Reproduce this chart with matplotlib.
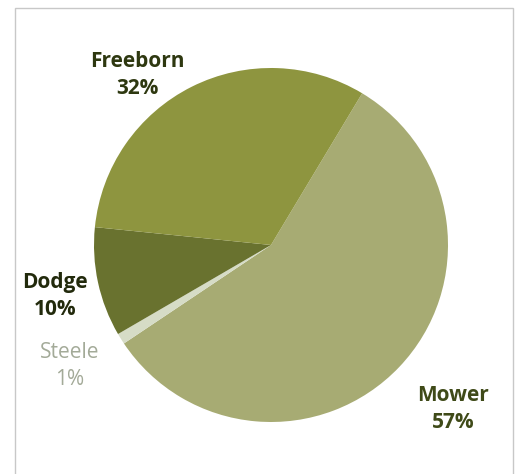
import matplotlib.pyplot as plt
from matplotlib.patches import Rectangle

# --- data --- #
counties = ["Mower", "Steele", "Dodge", "Freeborn"]
shares = [57, 1, 10, 32]
slice_colors = ["#a7ab73", "#d6dcc6", "#69722f", "#8e953f"]
label_colors = ["#3f4a18", "#a3aa98", "#222a0c", "#2e3810"]
label_weights = ["bold", "normal", "bold", "bold"]
# label centres in pixel coords (x, y from top)
label_pos = [(453, 409), (70, 366), (55, 296), (137, 75)]

W, H = 521, 474
fig = plt.figure(figsize=(W / 100, H / 100), dpi=100)
ax = fig.add_axes([0, 0, 1, 1])

# light frame around the chart
ax.add_patch(Rectangle((15, -5), 498, H - 8 + 5, fill=False,
                       edgecolor="#c8c8c8", linewidth=1.0))

ax.pie(shares, colors=slice_colors, startangle=59, counterclock=False,
       center=(271, H - 245), radius=177, frame=True,
       wedgeprops=dict(linewidth=0))
ax.set_xlim(0, W)
ax.set_ylim(0, H)
ax.axis("off")

for name, val, col, wt, (x, y) in zip(counties, shares, label_colors,
                                      label_weights, label_pos):
    ax.text(x, H - y, f"{name}\n{val}%", ha="center", va="center",
            color=col, fontsize=15, fontweight=wt, family="Open Sans",
            linespacing=1.35)

fig.savefig("out.png", dpi=100)
